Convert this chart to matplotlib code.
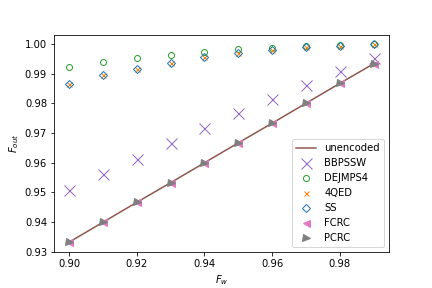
import numpy as np
import matplotlib
matplotlib.use("Agg")
import matplotlib.pyplot as plt

# Input fidelity
f_w = [0.90, 0.91, 0.92, 0.93, 0.94, 0.95, 0.96, 0.97, 0.98, 0.99]

# Output fidelity per scheme
unencoded = [0.9333, 0.9400, 0.9467, 0.9533, 0.9600, 0.9667, 0.9733, 0.9800, 0.9867, 0.9933]
bbpssw = [0.9508, 0.9561, 0.9614, 0.9666, 0.9717, 0.9766, 0.9813, 0.9860, 0.9907, 0.9953]
dejmps4 = [0.9923, 0.9939, 0.9953, 0.9964, 0.9974, 0.9982, 0.9987, 0.9992, 0.9995, 0.9998]
qed4 = [0.9866, 0.9894, 0.9917, 0.9937, 0.9955, 0.9968, 0.9980, 0.9988, 0.9994, 0.9998]
ss = [0.9866, 0.9894, 0.9917, 0.9937, 0.9955, 0.9968, 0.9980, 0.9988, 0.9994, 0.9998]
fcrc = [0.9333, 0.9400, 0.9467, 0.9533, 0.9600, 0.9667, 0.9733, 0.9800, 0.9867, 0.9933]
pcrc = [0.9333, 0.9400, 0.9467, 0.9533, 0.9600, 0.9667, 0.9733, 0.9800, 0.9867, 0.9933]

fig = plt.figure(figsize=(6, 4), dpi=72)
ax = fig.add_subplot(111)
fig.subplots_adjust(left=0.125, right=0.9, top=0.88, bottom=0.125)

ax.plot(f_w, unencoded, "-", color="tab:brown", label="unencoded")
ax.plot(f_w, bbpssw, "x", color="tab:purple", ms=11, ls="none", label="BBPSSW")
ax.plot(f_w, dejmps4, "o", color="tab:green", mfc="none", ms=6, ls="none", label="DEJMPS4")
ax.plot(f_w, qed4, "x", color="tab:orange", ms=5, ls="none", label="4QED")
ax.plot(f_w, ss, "D", color="tab:blue", mfc="none", ms=6, ls="none", label="SS")
ax.plot(f_w, fcrc, "<", color="tab:pink", ms=7, ls="none", label="FCRC")
ax.plot(f_w, pcrc, ">", color="tab:gray", ms=7, ls="none", label="PCRC")

ax.set_xlabel("$F_w$")
ax.set_ylabel("$F_{out}$")
ax.legend(loc="lower right")

fig.savefig("out.png", dpi=72)
plt.close()
